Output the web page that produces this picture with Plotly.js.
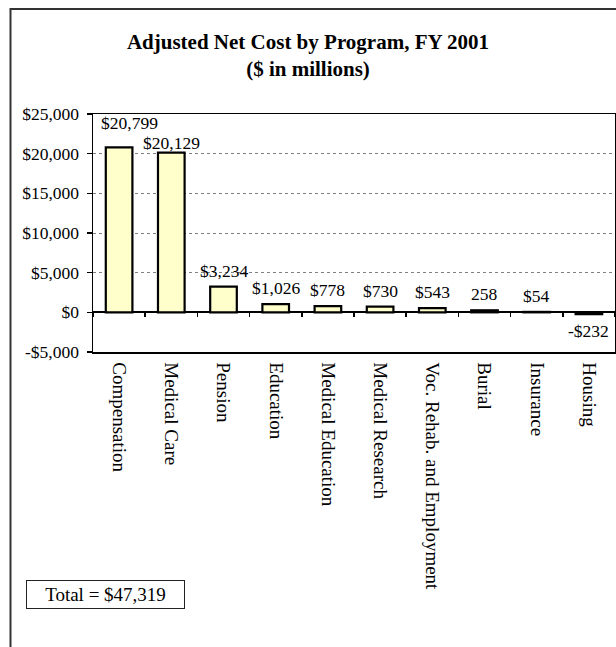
<!DOCTYPE html>
<html>
<head>
<meta charset="utf-8">
<script src="https://cdn.plot.ly/plotly-3.0.1.min.js"></script>
<style>
html, body { margin: 0; padding: 0; background: #fff; }
#chart { width: 616px; height: 647px; }
</style>
</head>
<body>
<div id="chart"></div>
<script>
// ---- data ----
var programs = ["Compensation", "Medical Care", "Pension", "Education", "Medical Education",
  "Medical Research", "Voc. Rehab. and Employment", "Burial", "Insurance", "Housing"];
var netCost = [20799, 20129, 3234, 1026, 778, 730, 543, 258, 54, -232];
var valueLabels = ["$20,799", "$20,129", "$3,234", "$1,026", "$778", "$730", "$543", "258", "$54", "-$232"];
var yTickVals = [-5000, 0, 5000, 10000, 15000, 20000, 25000];
var yTickText = ["-$5,000", "$0", "$5,000", "$10,000", "$15,000", "$20,000", "$25,000"];
var titleText = "Adjusted Net Cost by Program, FY 2001<br>($ in millions)";
var totalText = "Total = $47,319";

// ---- styling (label nudges in pixels) ----
var FONT = '"Liberation Serif", "Times New Roman", Times, serif';
var labelNudge = { 0: { dx: 10, dy: 24 }, 1: { dx: 0, dy: 10 } };

var annotations = programs.map(function (p, i) {
  var n = labelNudge[i] || { dx: 0, dy: netCost[i] >= 0 ? 16 : -17 };
  return {
    x: p, y: netCost[i], xref: 'x', yref: 'y',
    text: valueLabels[i], showarrow: false,
    xanchor: 'center', yanchor: 'middle',
    xshift: n.dx, yshift: n.dy,
    font: { family: FONT, size: 17.5, color: '#000' }
  };
});

annotations.push({
  text: totalText, showarrow: false,
  xref: 'paper', yref: 'paper', x: 0.024, y: -1.019,
  xanchor: 'center', yanchor: 'middle',
  width: 157, height: 27, borderpad: 0,
  bordercolor: '#222', borderwidth: 1, bgcolor: '#fff',
  font: { family: FONT, size: 19, color: '#000' }
});

var traces = [
  {
    type: 'bar', x: programs, y: netCost,
    marker: { color: '#FFFFCC', line: { color: '#000', width: 2.2 } },
    hoverinfo: 'x+y', showlegend: false
  },
  {
    type: 'scatter', mode: 'markers', x: programs, y: netCost, xaxis: 'x2',
    marker: { opacity: 0 }, hoverinfo: 'skip', showlegend: false
  }
];

var layout = {
  width: 616, height: 647,
  margin: { l: 93, r: 1, t: 114, b: 295, pad: 0 },
  paper_bgcolor: '#fff', plot_bgcolor: '#fff',
  showlegend: false,
  bargap: 0.49,
  font: { family: FONT, size: 17, color: '#000' },
  title: {
    text: '<b>' + titleText.replace('<br>', '</b><br><b>') + '</b>',
    xref: 'container', x: 0.5, xanchor: 'center',
    yref: 'container', y: 1 - 49 / 647, yanchor: 'middle',
    font: { family: FONT, size: 21, color: '#000' }
  },
  xaxis: {
    type: 'category', range: [-0.5, 9.5],
    ticks: '', tickangle: 90, ticklabelstandoff: 5,
    tickfont: { family: FONT, size: 19, color: '#000' },
    showline: true, linecolor: '#000', linewidth: 1.5, mirror: true,
    showgrid: false, zeroline: false, fixedrange: true, automargin: false
  },
  xaxis2: {
    type: 'category', range: [-0.5, 9.5], overlaying: 'x',
    anchor: 'free', position: 1 / 6,
    tickson: 'boundaries', ticks: 'outside', ticklen: 4, tickwidth: 1.5, tickcolor: '#000',
    showticklabels: false, showline: false, showgrid: false, zeroline: false,
    fixedrange: true, automargin: false
  },
  yaxis: {
    range: [-5000, 25000],
    tickvals: yTickVals, ticktext: yTickText,
    ticks: 'outside', ticklen: 5, tickwidth: 1.5, tickcolor: '#000',
    ticklabelstandoff: 4,
    tickfont: { family: FONT, size: 17.5, color: '#000' },
    showline: true, linecolor: '#000', linewidth: 1.5, mirror: true,
    showgrid: true, gridcolor: '#808080', gridwidth: 1, griddash: '3px,3px',
    zeroline: true, zerolinecolor: '#000', zerolinewidth: 2,
    fixedrange: true, automargin: false
  },
  annotations: annotations,
  shapes: [{
    type: 'rect', xref: 'paper', yref: 'paper',
    x0: (10.5 - 93) / 522, x1: 1.2, y0: -1.6, y1: 1 + (114 - 9) / 238,
    line: { color: '#333', width: 2 }, fillcolor: 'rgba(0,0,0,0)', layer: 'above'
  }]
};

Plotly.newPlot('chart', traces, layout, { staticPlot: true, displayModeBar: false });
</script>
</body>
</html>
